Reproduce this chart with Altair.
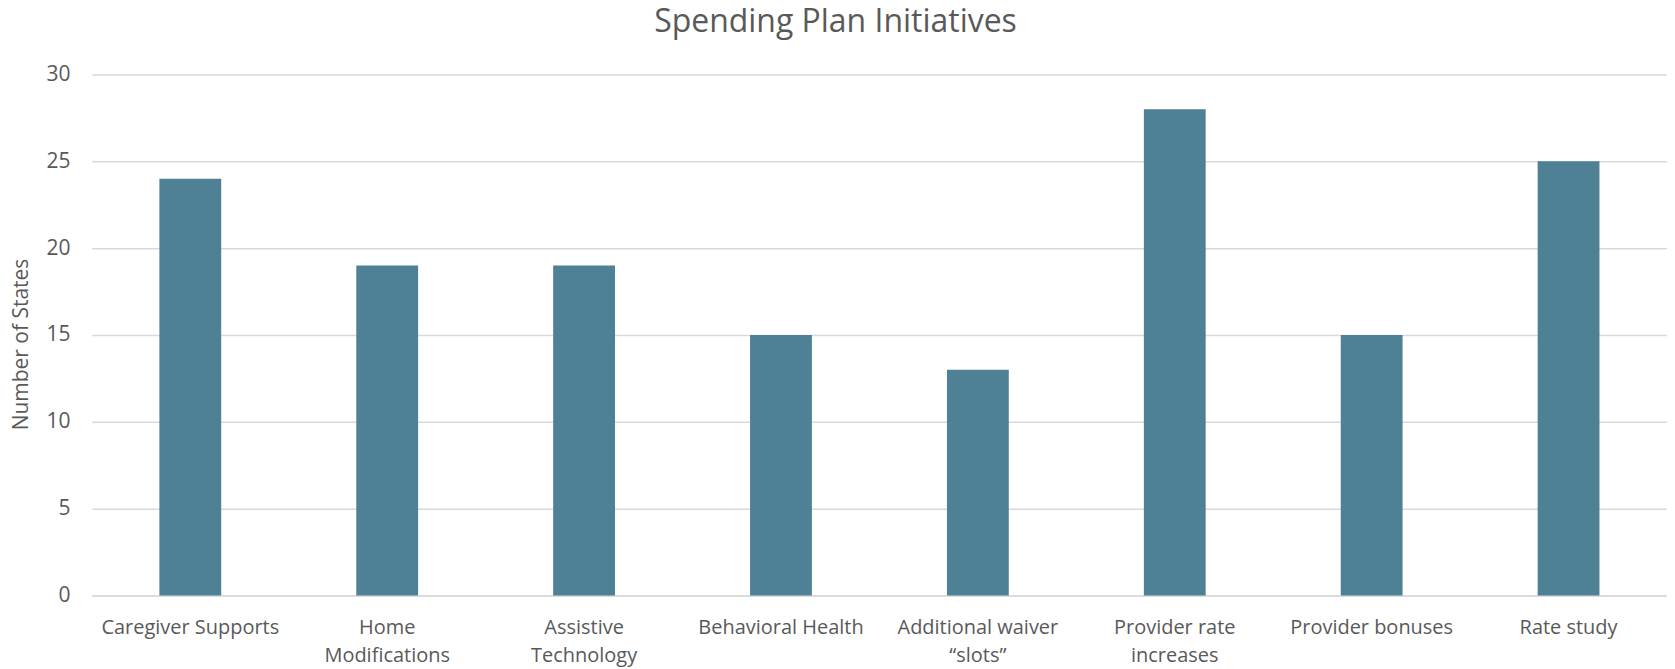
import altair as alt
import pandas as pd

categories = ["Caregiver Supports", "Home\nModifications", "Assistive\nTechnology",
              "Behavioral Health", "Additional waiver\n\u201cslots\u201d", "Provider rate\nincreases",
              "Provider bonuses", "Rate study"]
values = [24, 19, 19, 15, 13, 28, 15, 25]

df = pd.DataFrame({"category": categories, "states": values})

FONT = "Open Sans"
TEXT = "#595959"

chart = alt.Chart(df).mark_bar(color="#4E8096").encode(
    x=alt.X("category:N", sort=categories,
            scale=alt.Scale(paddingInner=0.686, paddingOuter=0.343),
            axis=alt.Axis(title=None, labelAngle=0, labelExpr="split(datum.label, '\\n')",
                          labelFont=FONT, labelFontSize=20, labelColor=TEXT,
                          labelPadding=22, labelLineHeight=28, ticks=False,
                          domainColor="#D9D9D9", domainWidth=1.5, labelLimit=300)),
    y=alt.Y("states:Q", scale=alt.Scale(domain=[0, 30]),
            axis=alt.Axis(title="Number of States", values=[0, 5, 10, 15, 20, 25, 30],
                          titleFont=FONT, titleFontSize=21, titleFontWeight="normal",
                          titleColor=TEXT, titleX=-70, titleY=270, titleAngle=-90,
                          titleAlign="center", titleBaseline="middle",
                          labelFont=FONT, labelFontSize=21, labelColor=TEXT,
                          labelPadding=22, ticks=False, domain=False,
                          gridColor="#D9D9D9", gridWidth=1.5)),
).properties(
    width=1578, height=522,
    title=alt.TitleParams("Spending Plan Initiatives", font=FONT, fontSize=32,
                          fontWeight="normal", color=TEXT, anchor="middle",
                          offset=25, dx=-44),
    autosize=alt.AutoSizeParams(type="none"),
    padding={"left": 84, "top": 66, "right": 0, "bottom": 73},
).configure_view(stroke=None)

chart.save("out.html", embed_options={"renderer": "svg", "actions": False})
